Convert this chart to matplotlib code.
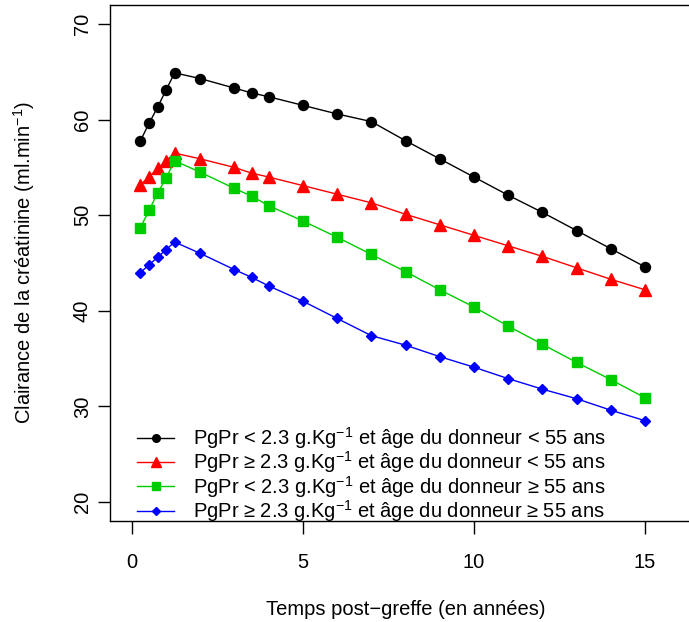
import matplotlib.pyplot as plt
from matplotlib.lines import Line2D

plt.rcParams['font.family'] = ['Liberation Sans', 'DejaVu Sans']
plt.rcParams['mathtext.fontset'] = 'custom'
plt.rcParams['mathtext.rm'] = 'Liberation Sans'
plt.rcParams['mathtext.it'] = 'Liberation Sans:italic'
plt.rcParams['axes.unicode_minus'] = True

# time points (years)
temps = [0.25, 0.5, 0.75, 1, 1.25, 2, 3, 3.5, 4, 5, 6, 7, 8, 9, 10, 11, 12, 13, 14, 15]

# creatinine clearance per group
faible_jeune = [57.8, 59.6, 61.3, 63.1, 64.9, 64.3, 63.3, 62.8, 62.4, 61.5,
                60.6, 59.8, 57.8, 55.9, 54.0, 52.1, 50.3, 48.4, 46.5, 44.6]
fort_jeune = [53.2, 54.0, 54.9, 55.7, 56.5, 55.9, 55.0, 54.4, 54.0, 53.1,
              52.2, 51.3, 50.1, 49.0, 47.9, 46.8, 45.7, 44.5, 43.3, 42.2]
faible_age = [48.7, 50.5, 52.3, 53.9, 55.7, 54.5, 52.8, 52.0, 51.0, 49.4,
              47.7, 45.9, 44.1, 42.2, 40.4, 38.4, 36.5, 34.6, 32.8, 30.9]
fort_age = [44.0, 44.8, 45.6, 46.4, 47.2, 46.0, 44.3, 43.5, 42.6, 41.0,
            39.2, 37.4, 36.4, 35.2, 34.1, 32.9, 31.8, 30.8, 29.6, 28.5]

labels = [
    r'PgPr < 2.3 g.Kg$^{-1}$ et âge du donneur < 55 ans',
    r'PgPr ≥ 2.3 g.Kg$^{-1}$ et âge du donneur < 55 ans',
    r'PgPr < 2.3 g.Kg$^{-1}$ et âge du donneur ≥ 55 ans',
    r'PgPr ≥ 2.3 g.Kg$^{-1}$ et âge du donneur ≥ 55 ans',
]

FS = 14.5
W, H = 689, 622
fig = plt.figure(figsize=(W / 100, H / 100), dpi=100)
# plot region, right edge runs past the figure like the original
left, right, top, bottom = 110, 701, 5, 521
ax = fig.add_axes([left / W, 1 - bottom / H, (right - left) / W, (bottom - top) / H])

ax.plot(temps, faible_jeune, 'o-', color='black', ms=7.2, lw=1, label=labels[0])
ax.plot(temps, fort_jeune, '^-', color='#FF0000', ms=8.5, lw=1, label=labels[1])
ax.plot(temps, faible_age, 's-', color='#00CD00', ms=7, lw=1, label=labels[2])
ax.plot(temps, fort_age, 'D-', color='#0000FF', ms=5.5, lw=1, label=labels[3])

ax.set_xlim(-0.64, 16.64)
ax.set_ylim(18, 72)
ax.set_xticks([0, 5, 10, 15])
ax.set_yticks([20, 30, 40, 50, 60, 70])
ax.tick_params(axis='both', direction='out', length=9, width=1, labelsize=FS)
ax.tick_params(axis='x', pad=14)
ax.tick_params(axis='y', pad=4)
for lab in ax.get_yticklabels():
    lab.set_rotation(90)
    lab.set_va('center')
for sp in ax.spines.values():
    sp.set_linewidth(1)

ax.set_xlabel('Temps post−greffe (en années)', fontsize=FS, labelpad=20)
ax.set_ylabel(r'Clairance de la créatinine (ml.min$^{-1}$)', fontsize=FS)
ax.yaxis.set_label_coords((37 - left) / (right - left), 0.5)

handles = [
    Line2D([], [], color='black', marker='o', ms=5.5, lw=1),
    Line2D([], [], color='#FF0000', marker='^', ms=7, lw=1),
    Line2D([], [], color='#00CD00', marker='s', ms=5.5, lw=1),
    Line2D([], [], color='#0000FF', marker='D', ms=4, lw=1),
]
ax.legend(handles, labels, loc='lower left', bbox_to_anchor=((137 - left) / (right - left), (bottom - 524) / (bottom - top)),
          frameon=False, fontsize=FS, handlelength=1.85, handletextpad=0.95,
          labelspacing=-0.08, borderpad=0, borderaxespad=0)

fig.savefig('out.png', dpi=100)
